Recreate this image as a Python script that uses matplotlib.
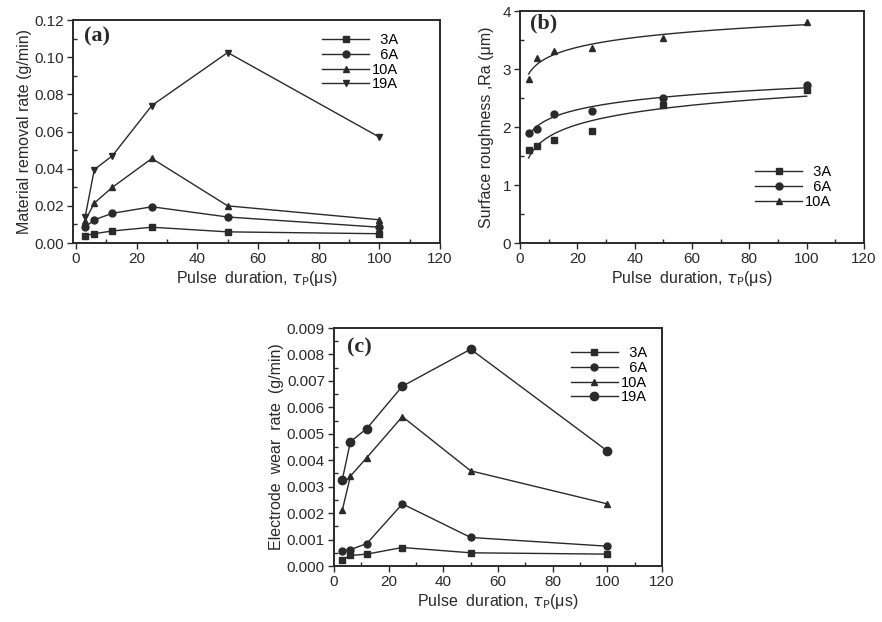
import numpy as np
import matplotlib.pyplot as plt
from matplotlib.ticker import MultipleLocator

plt.rcParams['font.family'] = ['Liberation Sans', 'DejaVu Sans']

# pulse durations (us)
tp = [3, 6, 12, 25, 50, 100]

# (a) material removal rate, g/min
mrr_3a = [0.004, 0.005, 0.0065, 0.0085, 0.006, 0.005]
mrr_6a = [0.0085, 0.0125, 0.016, 0.0195, 0.014, 0.0085]
mrr_10a = [0.012, 0.0215, 0.030, 0.0455, 0.020, 0.0125]
mrr_19a = [0.014, 0.0395, 0.047, 0.074, 0.1025, 0.057]

# (b) surface roughness Ra, um
ra_3a = [1.60, 1.67, 1.77, 1.93, 2.38, 2.64]
ra_6a = [1.89, 1.97, 2.23, 2.28, 2.50, 2.72]
ra_10a = [2.83, 3.19, 3.31, 3.37, 3.53, 3.81]

# (c) electrode wear rate, g/min
ewr_3a = [0.00023, 0.0004, 0.00045, 0.0007, 0.0005, 0.00045]
ewr_6a = [0.00058, 0.00062, 0.00085, 0.00235, 0.00108, 0.00075]
ewr_10a = [0.0021, 0.0034, 0.0041, 0.00565, 0.0036, 0.00235]
ewr_19a = [0.00325, 0.0047, 0.0052, 0.0068, 0.0082, 0.00435]

col = '#2a2a2a'
xlab = 'Pulse  duration, $\\tau_\\mathrm{P}$(μs)'

fig = plt.figure(figsize=(8.82, 6.22), dpi=100)
ax_a = fig.add_axes([0.0828, 0.6093, 0.416, 0.3585])
ax_b = fig.add_axes([0.5896, 0.6093, 0.390, 0.3730])
ax_c = fig.add_axes([0.3787, 0.0900, 0.3719, 0.3826])


def style(ax, ymajor, yminor):
    ax.xaxis.set_major_locator(MultipleLocator(20))
    ax.xaxis.set_minor_locator(MultipleLocator(10))
    ax.yaxis.set_major_locator(MultipleLocator(ymajor))
    ax.yaxis.set_minor_locator(MultipleLocator(yminor))
    ax.tick_params(which='major', direction='out', length=4, width=1, labelsize=11,
                   colors=col, pad=2.5)
    ax.tick_params(which='minor', direction='in', length=3, width=1, colors=col)
    for s in ax.spines.values():
        s.set_linewidth(1.4)
        s.set_color(col)
    ax.set_xlabel(xlab, fontsize=11.5, color=col, labelpad=2)


def leg(ax, loc, anchor):
    ax.legend(loc=loc, bbox_to_anchor=anchor, frameon=False, fontsize=10.5,
              handlelength=3.2, handletextpad=0.2, labelspacing=0.05,
              borderaxespad=0.2, markerfirst=True)


# (a)
kw = dict(color=col, lw=1, ms=5)
ax_a.plot(tp, mrr_3a, marker='s', label='  3A', **kw)
ax_a.plot(tp, mrr_6a, marker='o', label='  6A', **kw)
ax_a.plot(tp, mrr_10a, marker='^', label='10A', **kw)
ax_a.plot(tp, mrr_19a, marker='v', label='19A', **kw)
ax_a.set_xlim(-1, 120)
ax_a.set_ylim(0, 0.12)
style(ax_a, 0.02, 0.01)
ax_a.yaxis.set_major_formatter(plt.FormatStrFormatter('%.2f'))
ax_a.set_ylabel('Material removal rate (g/min)', fontsize=11.5, color=col, labelpad=2)
leg(ax_a, 'upper right', (0.91, 0.98))
ax_a.text(0.03, 0.97, '(a)', transform=ax_a.transAxes, fontsize=16, fontweight='bold',
          family='Liberation Serif', va='top', ha='left', color=col)

# (b) points with logarithmic fits
xf = np.linspace(3, 100, 200)
for vals, m, lab in [(ra_3a, 's', '  3A'), (ra_6a, 'o', '  6A'), (ra_10a, '^', '10A')]:
    c = np.polyfit(np.log(tp), vals, 1)
    ax_b.plot(xf, np.polyval(c, np.log(xf)), color=col, lw=1)
    ax_b.plot(tp, vals, ls='none', marker=m, color=col, ms=5)
    ax_b.plot([], [], color=col, lw=1, marker=m, ms=5, label=lab)
ax_b.set_xlim(0, 120)
ax_b.set_ylim(0, 4)
style(ax_b, 1, 0.5)
ax_b.set_ylabel('Surface roughness ,Ra (μm)', fontsize=11.5, color=col, labelpad=6)
leg(ax_b, 'lower right', (0.93, 0.11))
ax_b.text(0.03, 0.99, '(b)', transform=ax_b.transAxes, fontsize=16, fontweight='bold',
          family='Liberation Serif', va='top', ha='left', color=col)

# (c)
ax_c.plot(tp, ewr_3a, marker='s', label='  3A', **kw)
ax_c.plot(tp, ewr_6a, marker='o', label='  6A', **kw)
ax_c.plot(tp, ewr_10a, marker='^', label='10A', **kw)
ax_c.plot(tp, ewr_19a, marker='o', label='19A', color=col, lw=1, ms=6)
ax_c.set_xlim(0, 120)
ax_c.set_ylim(0, 0.009)
style(ax_c, 0.001, 0.0005)
ax_c.yaxis.set_major_formatter(plt.FormatStrFormatter('%.3f'))
ax_c.set_ylabel('Electrode  wear  rate  (g/min)', fontsize=11.5, color=col, labelpad=2)
leg(ax_c, 'upper right', (0.98, 0.96))
ax_c.text(0.04, 0.96, '(c)', transform=ax_c.transAxes, fontsize=16, fontweight='bold',
          family='Liberation Serif', va='top', ha='left', color=col)

fig.savefig('out.png', dpi=100)
